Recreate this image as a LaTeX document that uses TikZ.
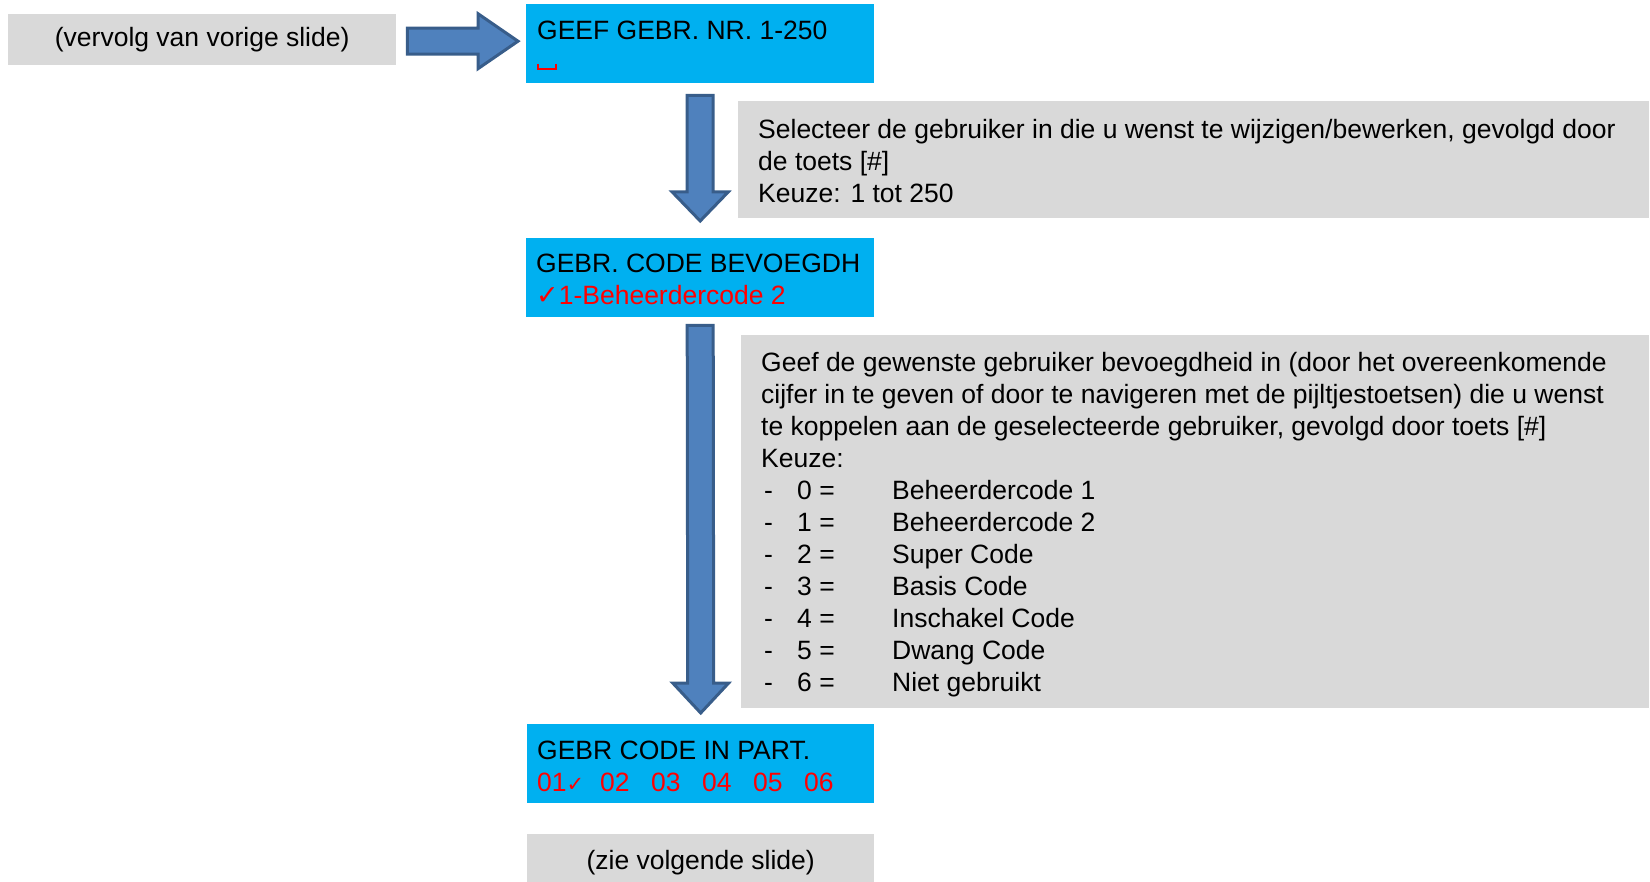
\documentclass[tikz,border=0pt]{standalone}
\usepackage{fontspec}
\setmainfont{Liberation Sans}
\newfontfamily\vinkfont{DejaVu Sans}
\usetikzlibrary{calc}
\definecolor{schermblauw}{HTML}{00B0F0}
\definecolor{grijs}{HTML}{D9D9D9}
\definecolor{pijlblauw}{HTML}{4F81BD}
\definecolor{pijlrand}{HTML}{385D8A}
\definecolor{rood}{HTML}{FF0000}
\tikzset{
  scherm/.style={fill=schermblauw, anchor=north west, inner sep=0pt},
  uitleg/.style={fill=grijs, anchor=north west, inner sep=0pt},
  tekst/.style={anchor=north west, inner sep=0pt, align=left, font=\fontsize{26.5}{32}\selectfont},
  pijl/.style={fill=pijlblauw, draw=pijlrand, line width=3pt, line join=miter},
}
\newcommand\vink[1]{{\fontsize{#1}{#1}\vinkfont ✓}}
\newcommand\eerste{\rule{0pt}{22pt}}
\newcommand\keuze[2]{\makebox[36pt][l]{\hspace{3pt}-}\makebox[95pt][l]{#1 =}#2}
\begin{document}
\begin{tikzpicture}[x=1pt,y=-1pt]
  \useasboundingbox (0,0) rectangle (1650,882);
  % vakken
  \node[uitleg, minimum width=388pt, minimum height=51pt] (vervolg) at (8,14) {};
  \node[scherm, minimum width=348pt, minimum height=79pt] (geef) at (526,4) {};
  \node[uitleg, minimum width=911pt, minimum height=117pt] (kies) at (738,101) {};
  \node[scherm, minimum width=348pt, minimum height=79pt] (bevoegd) at (526,238) {};
  \node[uitleg, minimum width=908pt, minimum height=373pt] (niveau) at (741,335) {};
  \node[scherm, minimum width=347pt, minimum height=79pt] (part) at (527,724) {};
  \node[uitleg, minimum width=347pt, minimum height=48pt] (volgende) at (527,834) {};
  % teksten (eerste basislijn 22pt onder de bovenkant)
  \node[tekst, anchor=center] (vervolgtxt) at (vervolg.center) {(vervolg van vorige slide)};
  \node[tekst] (geeftxt) at ($(geef.north west)+(11,13)$) {\eerste GEEF GEBR. NR. 1-250};
  \draw[rood, line width=2pt] ($(geef.north west)+(12,60)$) -- ++(0,5) -- ++(18,0) -- ++(0,-5);
  \node[tekst] (kiestxt) at ($(kies.north west)+(20,15)$)
    {\eerste Selecteer de gebruiker in die u wenst te wijzigen/bewerken, gevolgd door\\
     de toets [\#]\\
     Keuze: 1 tot 250};
  \node[tekst] (bevoegdtxt) at ($(bevoegd.north west)+(10,12.5)$)
    {\eerste GEBR. CODE BEVOEGDH\\
     \textcolor{rood}{\vink{27}1-Beheerdercode 2}};
  \node[tekst] (niveautxt) at ($(niveau.north west)+(20,14.5)$)
    {\eerste Geef de gewenste gebruiker bevoegdheid in (door het overeenkomende\\
     cijfer in te geven of door te navigeren met de pijltjestoetsen) die u wenst\\
     te koppelen aan de geselecteerde gebruiker, gevolgd door toets [\#]\\
     Keuze:\\
     \keuze{0}{Beheerdercode 1}\\
     \keuze{1}{Beheerdercode 2}\\
     \keuze{2}{Super Code}\\
     \keuze{3}{Basis Code}\\
     \keuze{4}{Inschakel Code}\\
     \keuze{5}{Dwang Code}\\
     \keuze{6}{Niet gebruikt}};
  \node[tekst] (parttxt) at ($(part.north west)+(10,13)$)
    {\eerste GEBR CODE IN PART.\\
     \color{rood}\makebox[63pt][l]{01\vink{21}}\makebox[51pt][l]{02}\makebox[51pt][l]{03}\makebox[51pt][l]{04}\makebox[51pt][l]{05}06};
  \node[tekst, anchor=center] (volgendetxt) at ($(volgende.center)+(0,4)$) {(zie volgende slide)};
  % blokpijlen
  \coordinate (p0a) at ($(vervolg.east)+(11,1.5)$);
  \coordinate (p0b) at ($(geef.west)+(-8,-2.5)$);
  \draw[pijl] ($(p0a)+(0,-13)$) -- ($(p0b)+(-40,-13)$) -- ($(p0b)+(-40,-27.5)$) -- (p0b)
    -- ($(p0b)+(-40,27.5)$) -- ($(p0b)+(-40,13)$) -- ($(p0a)+(0,13)$) -- cycle;
  \coordinate (p1a) at ($(geef.south)+(0,12)$);
  \coordinate (p1b) at ($(bevoegd.north)+(0,-17)$);
  \draw[pijl] ($(p1a)+(-13,0)$) -- ($(p1b)+(-13,-29)$) -- ($(p1b)+(-28,-29)$) -- (p1b)
    -- ($(p1b)+(28,-29)$) -- ($(p1b)+(13,-29)$) -- ($(p1a)+(13,0)$) -- cycle;
  \coordinate (p2a) at ($(bevoegd.south)+(0,8)$);
  \coordinate (p2b) at ($(part.north)+(0,-11)$);
  \draw[pijl] ($(p2a)+(-13,0)$) -- ($(p2b)+(-13,-30)$) -- ($(p2b)+(-28,-30)$) -- (p2b)
    -- ($(p2b)+(28,-30)$) -- ($(p2b)+(13,-30)$) -- ($(p2a)+(13,0)$) -- cycle;
\end{tikzpicture}
\end{document}
